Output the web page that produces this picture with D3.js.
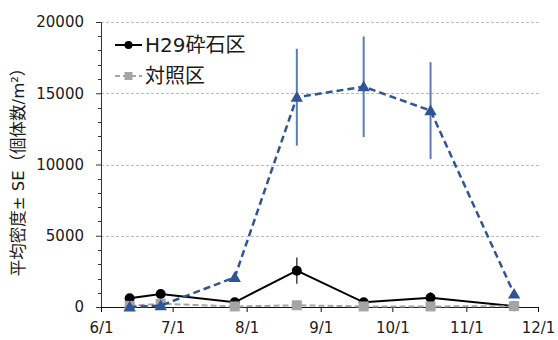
<!DOCTYPE html>
<html>
<head>
<meta charset="utf-8">
<script src="https://cdn.jsdelivr.net/npm/d3@7"></script>
<style>
  body { margin: 0; background: #fff; }
  svg text { font-family: "DejaVu Sans", "Noto Sans CJK JP", sans-serif; fill: #1a1a1a; }
</style>
</head>
<body>
<script>
// survey dates (2017 = H29)
var dates = ["2017-06-13", "2017-06-26", "2017-07-27", "2017-08-22", "2017-09-19", "2017-10-17", "2017-11-21"];

// mean density and SE per series
var crushedMean = [610, 910, 330, 2550, 330, 650, 60];
var crushedSE = [120, 150, 80, 920, 90, 400, 30];
var controlMean = [80, 230, 40, 120, 40, 40, 60];
var controlSE = [30, 60, 20, 40, 20, 20, 20];
var blueMean = [0, 100, 2080, 14720, 15460, 13780, 910];
var blueSE = [0, 60, 250, 3400, 3530, 3400, 200];

var yTicks = [0, 5000, 10000, 15000, 20000];
var xTickDates = ["2017-06-01", "2017-07-01", "2017-08-01", "2017-09-01", "2017-10-01", "2017-11-01", "2017-12-01"];
var legendNames = ["H29砕石区", "対照区"];

// chart size
var w = 558;
var h = 340;
var leftMargin = 101;
var rightEdge = 538;
var topMargin = 22;
var axisY = 307;

var parse = d3.timeParse("%Y-%m-%d");

var svg = d3.select("body")
  .append("svg")
  .attr("width", w)
  .attr("height", h);

var scaleX = d3.scaleTime()
  .domain([parse(xTickDates[0]), parse(xTickDates[xTickDates.length - 1])])
  .range([leftMargin, rightEdge]);

var scaleY = d3.scaleLinear()
  .domain([0, 20000])
  .range([axisY, topMargin]);

// horizontal grid lines
svg.selectAll(".grid")
  .data(yTicks.slice(1))
  .enter()
  .append("line")
  .attr("x1", leftMargin)
  .attr("x2", rightEdge + 3)
  .attr("y1", function(d) { return Math.round(scaleY(d)) + 0.5; })
  .attr("y2", function(d) { return Math.round(scaleY(d)) + 0.5; })
  .attr("stroke", "#bdbdbd")
  .attr("stroke-width", 1)
  .attr("stroke-dasharray", "3,2");

// minor y ticks every 1000
svg.selectAll(".minor")
  .data(d3.range(1000, 20000, 1000).filter(function(d) { return d % 5000 != 0; }))
  .enter()
  .append("line")
  .attr("x1", leftMargin - 3)
  .attr("x2", leftMargin)
  .attr("y1", function(d) { return Math.round(scaleY(d)) + 0.5; })
  .attr("y2", function(d) { return Math.round(scaleY(d)) + 0.5; })
  .attr("stroke", "#333");

// y axis
var y_axis = d3.axisLeft(scaleY)
  .tickValues(yTicks)
  .tickSize(5)
  .tickPadding(12)
  .tickFormat(d3.format("d"));

svg.append("g")
  .attr("transform", "translate(" + leftMargin + ",0)")
  .call(y_axis)
  .call(function(g) {
    g.select(".domain").attr("stroke", "#333");
    g.selectAll(".tick line").attr("stroke", "#333");
    g.selectAll("text").style("font-size", "15px").attr("fill", "#1a1a1a");
  });

// x axis
var x_axis = d3.axisBottom(scaleX)
  .tickValues(xTickDates.map(parse))
  .tickSize(5)
  .tickSizeOuter(0)
  .tickPadding(10)
  .tickFormat(d3.timeFormat("%-m/%-d"));

svg.append("g")
  .attr("transform", "translate(0," + axisY + ")")
  .call(x_axis)
  .call(function(g) {
    g.select(".domain").attr("stroke", "#111");
    g.selectAll(".tick line").attr("stroke", "#111");
    g.selectAll("text").style("font-size", "15px").attr("fill", "#1a1a1a");
  });

// y axis title
svg.append("text")
  .attr("transform", "translate(24," + 168 + ") rotate(-90)")
  .style("text-anchor", "middle")
  .style("font-size", "16.5px")
  .text("平均密度± SE（個体数/m²）");

var line = d3.line()
  .x(function(d) { return scaleX(parse(d.date)); })
  .y(function(d) { return scaleY(d.mean); });

function makeSeries(means, ses) {
  return dates.map(function(d, i) { return { date: d, mean: means[i], se: ses[i] }; });
}

function drawErrors(data, colour, width) {
  svg.append("g").selectAll("line")
    .data(data)
    .enter()
    .append("line")
    .attr("x1", function(d) { return scaleX(parse(d.date)); })
    .attr("x2", function(d) { return scaleX(parse(d.date)); })
    .attr("y1", function(d) { return scaleY(d.mean + d.se); })
    .attr("y2", function(d) { return scaleY(Math.max(0, d.mean - d.se)); })
    .attr("stroke", colour)
    .attr("stroke-width", width);
}

var crushed = makeSeries(crushedMean, crushedSE);
var control = makeSeries(controlMean, controlSE);
var blue = makeSeries(blueMean, blueSE);

// black series
drawErrors(crushed, "#444", 1.5);
svg.append("path")
  .datum(crushed)
  .attr("d", line)
  .attr("fill", "none")
  .attr("stroke", "#000")
  .attr("stroke-width", 2);
svg.append("g").selectAll("circle")
  .data(crushed)
  .enter()
  .append("circle")
  .attr("cx", function(d) { return scaleX(parse(d.date)); })
  .attr("cy", function(d) { return scaleY(d.mean); })
  .attr("r", 5)
  .attr("fill", "#000");

// grey series
drawErrors(control, "#a5a5a5", 1.5);
svg.append("path")
  .datum(control)
  .attr("d", line)
  .attr("fill", "none")
  .attr("stroke", "#a5a5a5")
  .attr("stroke-width", 2)
  .attr("stroke-dasharray", "6,3");
svg.append("g").selectAll("rect")
  .data(control)
  .enter()
  .append("rect")
  .attr("x", function(d) { return scaleX(parse(d.date)) - 5; })
  .attr("y", function(d) { return scaleY(d.mean) - 5; })
  .attr("width", 10)
  .attr("height", 10)
  .attr("fill", "#a5a5a5");

// blue series
drawErrors(blue, "#5a7bb5", 2);
svg.append("path")
  .datum(blue)
  .attr("d", line)
  .attr("fill", "none")
  .attr("stroke", "#2f5597")
  .attr("stroke-width", 2.5)
  .attr("stroke-dasharray", "7,4");
svg.append("g").selectAll("path")
  .data(blue)
  .enter()
  .append("path")
  .attr("d", d3.symbol().type(d3.symbolTriangle).size(66))
  .attr("transform", function(d) {
    return "translate(" + scaleX(parse(d.date)) + "," + (scaleY(d.mean) + 1) + ")";
  })
  .attr("fill", "#2f5597");

// legend
var legend = svg.append("g").attr("transform", "translate(115,0)");

legend.append("line")
  .attr("x1", 0).attr("x2", 27)
  .attr("y1", 45).attr("y2", 45)
  .attr("stroke", "#000").attr("stroke-width", 2);
legend.append("circle")
  .attr("cx", 13.5).attr("cy", 45).attr("r", 4)
  .attr("fill", "#000");
legend.append("text")
  .attr("x", 30).attr("y", 45)
  .attr("dy", ".35em")
  .style("font-size", "20px")
  .text(legendNames[0]);

legend.append("line")
  .attr("x1", 0).attr("x2", 27)
  .attr("y1", 76).attr("y2", 76)
  .attr("stroke", "#a5a5a5").attr("stroke-width", 2)
  .attr("stroke-dasharray", "5,3");
legend.append("rect")
  .attr("x", 9.5).attr("y", 72).attr("width", 8).attr("height", 8)
  .attr("fill", "#a5a5a5");
legend.append("text")
  .attr("x", 30).attr("y", 76)
  .attr("dy", ".35em")
  .style("font-size", "20px")
  .text(legendNames[1]);
</script>
</body>
</html>
